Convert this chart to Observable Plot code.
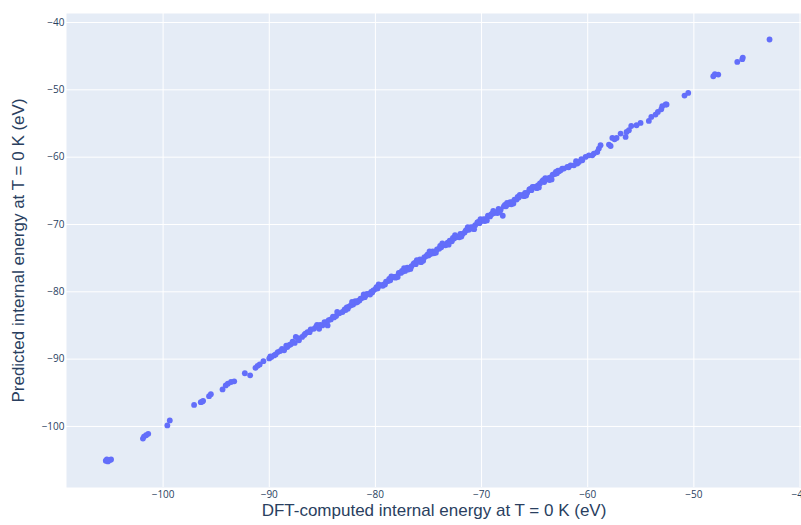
<!DOCTYPE html>
<html>
<head>
<meta charset="utf-8">
<script src="https://cdn.jsdelivr.net/npm/d3@7"></script>
<script src="https://cdn.jsdelivr.net/npm/@observablehq/plot@0.6"></script>
<style>
  html, body { margin: 0; padding: 0; background: #ffffff; }
  #chart svg { display: block; }
</style>
</head>
<body>
<div id="chart"></div>
<script>
// DFT-computed internal energy (eV)
const dftEnergy = [
  -105.4, -105.2, -105.0, -104.9, -105.3,
  -101.9, -101.8, -101.6, -101.4,
  -99.6, -99.37,
  -97.08,
  -96.45, -96.23, -96.3,
  -95.67, -95.5,
  -94.4, -94.1, -93.9, -93.6, -93.3,
  -92.3, -91.8,
  -91.3, -91.1, -90.9, -90.55,
  -90.0, -89.8, -89.55, -89.2, -88.98, -89.9, -89.4, -88.8,
  -88.6, -88.3, -87.97, -87.6, -87.5, -87.2, -86.9, -88.1, -87.8,
  -86.4, -86.1, -85.6, -85.3, -85.0, -84.6, -84.5, -84.2, -83.7, -83.4, -83.1,
  -86.7, -86.6, -85.8, -85.2, -84.8, -84.0, -83.9,
  -82.9, -82.7, -82.5, -82.3, -82.1, -81.9, -81.8, -81.6, -81.4, -81.2,
  -81.0, -80.8, -80.6, -80.4, -80.2, -80.0, -79.8, -79.6, -79.4, -79.2,
  -79.0, -78.8, -78.6, -78.4, -78.2, -78.0, -77.8, -77.6, -77.4, -77.2,
  -77.0, -76.8, -76.6, -76.4, -76.2, -76.0, -75.8, -75.6, -75.4, -75.2,
  -75.0, -74.8, -74.6, -74.4, -74.2, -74.0, -73.8, -73.6, -73.4, -73.2,
  -73.0, -72.8, -72.6, -72.4, -72.2, -72.0, -71.8, -71.6, -71.4, -71.2,
  -71.0, -70.8, -70.6, -70.4, -70.2, -70.0, -69.8, -69.6, -69.4, -69.2,
  -69.0, -68.8, -68.6, -68.4, -68.2, -68.0, -67.9, -67.7, -67.5, -67.3,
  -67.1, -66.9, -66.7, -66.5, -66.3, -66.1, -65.9, -65.7, -65.5, -65.3,
  -65.1, -64.9, -64.7, -64.5, -64.3, -64.1, -63.9, -63.7, -63.5, -63.3,
  -63.1, -62.9, -62.7,
  -82.6, -82.0, -81.5, -80.9, -80.3, -79.9, -79.3, -78.7, -78.1, -77.5,
  -76.9, -76.3, -75.7, -75.1, -74.5, -73.9, -73.3, -72.7, -72.1, -71.5,
  -70.9, -70.3, -69.7, -69.1, -68.5, -67.8, -67.2, -66.6, -66.0, -65.4,
  -64.8, -64.2, -63.6, -63.0,
  -88.4, -87.3, -86.2, -85.5, -84.4, -83.6, -82.8, -82.2, -81.7, -81.1,
  -80.5, -79.7, -79.1, -78.5, -77.9, -77.3, -76.7, -76.1, -75.5, -74.9,
  -74.3, -73.7, -73.1, -72.5, -71.9, -71.3, -70.7, -70.1, -69.5, -68.9,
  -68.3, -67.6, -67.0, -66.4, -65.8, -65.2, -64.6, -64.0, -63.4, -62.8,
  -62.4, -61.8, -61.1, -60.6,
  -62.55, -62.24, -61.92, -61.61, -61.3, -60.98, -60.83, -60.51, -60.2, -59.89,
  -59.57, -59.42, -59.1, -58.95, -58.79,
  -58.0, -57.84, -57.68, -57.47, -57.28, -56.9, -56.43, -56.34, -56.12, -55.9,
  -55.4, -55.02, -54.24, -54.01, -53.61, -53.39, -53.07, -52.57,
  -52.98, -52.66,
  -50.88, -50.53,
  -48.17, -48.02, -47.7,
  -45.91, -45.44, -45.39,
  -42.87
];

// Predicted internal energy (eV)
const predictedEnergy = [
  -105.1, -105.2, -105.0, -104.9, -104.9,
  -101.8, -101.5, -101.3, -101.1,
  -99.85, -99.1,
  -96.8,
  -96.4, -96.2, -96.3,
  -95.5, -95.2,
  -94.5, -93.9, -93.65, -93.4, -93.3,
  -92.1, -92.4,
  -91.3, -91.0, -90.8, -90.3,
  -89.9, -89.7, -89.45, -88.95, -88.8, -89.6, -89.3, -88.5,
  -88.7, -88.2, -87.8, -87.6, -86.7, -87.2, -86.7, -87.9, -87.4,
  -86.0, -85.6, -85.2, -85.5, -85.0, -84.5, -85.0, -84.1, -83.6, -83.2, -83.0,
  -86.4, -86.2, -85.5, -84.9, -84.5, -83.7, -83.8,
  -82.6, -82.3, -82.2, -82.0, -81.9, -81.4, -81.6, -81.3, -81.0, -80.9,
  -80.8, -80.3, -80.3, -80.0, -79.8, -79.6, -79.5, -79.1, -79.0, -78.9,
  -78.5, -78.4, -78.3, -77.8, -77.8, -77.7, -77.2, -77.2, -77.0, -76.9,
  -76.4, -76.5, -76.2, -75.8, -75.9, -75.5, -75.2, -75.3, -74.9, -74.7,
  -74.6, -74.4, -74.0, -74.1, -73.7, -73.6, -73.4, -73.0, -73.1, -72.7,
  -72.4, -72.5, -72.1, -71.9, -71.8, -71.4, -71.4, -71.2, -70.8, -70.8,
  -70.4, -70.4, -70.1, -69.7, -69.8, -69.5, -69.2, -69.2, -68.7, -68.8,
  -68.4, -68.3, -68.2, -67.7, -67.8, -68.7, -67.3, -67.3, -67.0, -66.7,
  -66.7, -66.3, -66.3, -66.0, -65.7, -65.6, -65.3, -65.3, -64.8, -64.9,
  -64.4, -64.4, -64.2, -63.9, -63.6, -63.7, -63.3, -63.1, -63.0, -62.6,
  -62.5, -62.4, -62.1,
  -82.5, -81.6, -81.3, -80.5, -80.1, -79.3, -79.1, -78.1, -77.9, -76.9,
  -76.7, -75.7, -75.6, -74.5, -74.3, -73.2, -72.9, -72.0, -71.9, -70.9,
  -70.6, -69.6, -69.5, -68.5, -68.3, -67.1, -67.0, -65.9, -65.8, -64.7,
  -64.6, -63.4, -63.4, -62.2,
  -88.0, -86.9, -86.0, -84.9, -84.2, -83.0, -82.7, -81.5, -81.5, -80.4,
  -80.4, -78.9, -78.9, -77.7, -77.8, -76.5, -76.6, -75.3, -75.4, -74.0,
  -74.2, -72.8, -73.0, -71.6, -71.8, -70.4, -70.7, -69.2, -69.4, -68.0,
  -68.2, -66.8, -66.9, -65.6, -65.7, -64.4, -64.5, -63.1, -63.3, -62.0,
  -61.7, -61.5, -60.6, -60.3,
  -61.95, -61.7, -61.46, -61.21, -61.21, -60.95, -60.72, -60.46, -59.97, -59.72,
  -59.72, -59.47, -59.23, -58.72, -58.23,
  -58.13, -58.34, -57.15, -57.34, -57.15, -56.5, -57.0, -56.26, -56.0, -55.37,
  -55.26, -54.92, -54.62, -54.03, -53.67, -53.28, -52.88, -52.18,
  -52.44, -52.18,
  -50.85, -50.46,
  -47.98, -47.68, -47.73,
  -45.85, -45.45, -45.2,
  -42.52
];

const xTicks = [-100, -90, -80, -70, -60, -50, -40];
const yTicks = [-100, -90, -80, -70, -60, -50, -40];
const xTitle = "DFT-computed internal energy at T = 0 K (eV)";
const yTitle = "Predicted internal energy at T = 0 K (eV)";

const points = dftEnergy.map((x, i) => ({x, y: predictedEnergy[i]}));
const fmt = d => (d < 0 ? "\u2212" : "") + Math.abs(d);

const chart = Plot.plot({
  width: 801,
  height: 525,
  marginLeft: 66,
  marginRight: 0,
  marginTop: 13,
  marginBottom: 38,
  style: {background: "#ffffff", fontFamily: "'Open Sans', sans-serif", fontSize: "10px", color: "#2a3f5f"},
  x: {domain: [-109.1, -39.86]},
  y: {domain: [-109.07, -38.66]},
  marks: [
    Plot.frame({fill: "#E5ECF6", stroke: null}),
    Plot.gridX(xTicks, {stroke: "#ffffff", strokeOpacity: 1, strokeWidth: 1}),
    Plot.gridY(yTicks, {stroke: "#ffffff", strokeOpacity: 1, strokeWidth: 1}),
    Plot.axisX(xTicks, {tickSize: 0, tickPadding: 3, tickFormat: fmt, label: null, fill: "#2a3f5f"}),
    Plot.axisY(yTicks, {tickSize: 0, tickPadding: 2, tickFormat: fmt, label: null, fill: "#2a3f5f"}),
    Plot.dot(points, {x: "x", y: "y", r: 2.9, fill: "#636EFA", stroke: null}),
    Plot.text([xTitle], {frameAnchor: "bottom", dy: 28, fontSize: 17, fontFamily: "'Liberation Sans', Arial, sans-serif", fill: "#2a3f5f"}),
    Plot.text([yTitle], {frameAnchor: "left", dx: -48, rotate: -90, textAnchor: "middle", fontSize: 17, fontFamily: "'Liberation Sans', Arial, sans-serif", fill: "#2a3f5f"})
  ]
});
document.getElementById("chart").appendChild(chart);
</script>
</body>
</html>
